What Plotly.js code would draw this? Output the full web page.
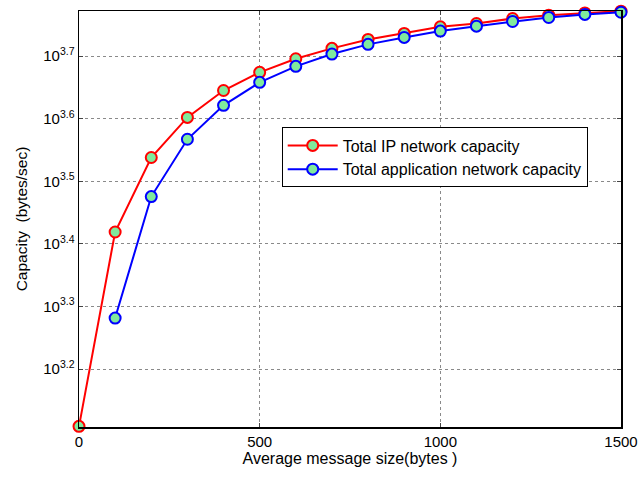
<!DOCTYPE html>
<html>
<head>
<meta charset="utf-8">
<script src="https://cdn.plot.ly/plotly-3.0.1.min.js"></script>
<style>html,body{margin:0;padding:0;background:#fff;}#chart{width:640px;height:477px;}</style>
</head>
<body>
<div id="chart"></div>
<script>
const messageSize = [0,100,200,300,400,500,600,700,800,900,1000,1100,1200,1300,1400,1500];
const ipCapacityLog = [3.1085,3.419,3.538,3.602,3.645,3.674,3.6957,3.7123,3.7266,3.7362,3.7467,3.752,3.760,3.7654,3.769,3.7718];
const appSize = [100,200,300,400,500,600,700,800,900,1000,1100,1200,1300,1400,1500];
const appCapacityLog = [3.2815,3.4756,3.5671,3.6213,3.658,3.6836,3.7032,3.7187,3.7298,3.7399,3.7478,3.7553,3.7617,3.7665,3.770];
const yTickExp = ['3.2','3.3','3.4','3.5','3.6','3.7'];
const xTicks = [0,500,1000,1500];

const ipCapacity = ipCapacityLog.map(v => Math.pow(10, v));
const appCapacity = appCapacityLog.map(v => Math.pow(10, v));
const yTickVals = yTickExp.map(e => Math.pow(10, parseFloat(e)));
const yTickText = yTickExp.map(e => '10<sup>' + e + '</sup>');

const markerFill = '#80ea9c';
const traces = [
  {x: messageSize, y: ipCapacity, name: 'Total IP network capacity', type: 'scatter', mode: 'lines+markers',
   line: {color: '#ff0000', width: 2}, marker: {size: 11, color: markerFill, line: {color: '#ff0000', width: 2}}, cliponaxis: false},
  {x: appSize, y: appCapacity, name: 'Total application network capacity', type: 'scatter', mode: 'lines+markers',
   line: {color: '#0000ff', width: 2}, marker: {size: 11, color: markerFill, line: {color: '#0000ff', width: 2}}, cliponaxis: false}
];

const layout = {
  width: 640, height: 477,
  margin: {l: 79, r: 19, t: 11, b: 50},
  paper_bgcolor: '#fff', plot_bgcolor: '#fff',
  font: {family: 'Liberation Sans, Arial, sans-serif', size: 13, color: '#000'},
  showlegend: true,
  legend: {x: 0.374, y: 0.72, xanchor: 'left', yanchor: 'top', bgcolor: '#fff', bordercolor: '#000', borderwidth: 1,
           font: {size: 16}, tracegroupgap: 0, itemwidth: 50},
  xaxis: {range: [0, 1500], tickvals: xTicks, ticktext: xTicks.map(String), ticks: 'inside', ticklen: 4,
          showline: true, linecolor: '#000', linewidth: 1.5, mirror: 'ticks', zeroline: false,
          showgrid: true, gridcolor: '#8a8a8a', griddash: 'dot', gridwidth: 1,
          title: {text: 'Average message size(bytes )', font: {size: 16}, standoff: 4},
          tickfont: {size: 15}},
  yaxis: {type: 'log', range: [3.1075, 3.772], tickvals: yTickVals, ticktext: yTickText, ticks: 'inside', ticklen: 4,
          showline: true, linecolor: '#000', linewidth: 1.5, mirror: 'ticks', zeroline: false,
          showgrid: true, gridcolor: '#8a8a8a', griddash: 'dot', gridwidth: 1,
          title: {text: 'Capacity  (bytes/sec)', font: {size: 15.5}, standoff: 12},
          tickfont: {size: 15}}
};

Plotly.newPlot('chart', traces, layout, {displayModeBar: false, staticPlot: true});
</script>
</body>
</html>
